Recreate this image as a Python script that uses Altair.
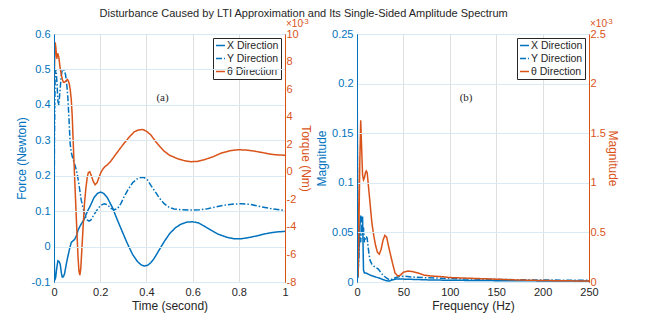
import altair as alt
import pandas as pd

BLUE = "#0072BD"
ORANGE = "#D95319"
DARK = "#262626"
FONT = "Liberation Sans"
SERIES = ["X Direction", "Y Direction", "θ Direction"]

# ---- (a) time domain ----
t_x = [0, 0.003, 0.007, 0.012, 0.017, 0.022, 0.027, 0.032, 0.036, 0.041, 0.046, 0.053, 0.06,
       0.068, 0.075, 0.082, 0.089, 0.097, 0.104, 0.116, 0.13, 0.145, 0.158, 0.173, 0.188, 0.202,
       0.215, 0.231, 0.253, 0.275, 0.297, 0.318, 0.34, 0.361, 0.376, 0.39, 0.405, 0.42, 0.434,
       0.455, 0.477, 0.5, 0.525, 0.549, 0.575, 0.6, 0.625, 0.65, 0.68, 0.71, 0.75, 0.78, 0.81,
       0.84, 0.87, 0.9, 0.93, 0.96, 1.0]
x_force = [0, -0.095, -0.088, -0.06, -0.04, -0.042, -0.05, -0.075, -0.086, -0.085, -0.076, -0.05,
           -0.028, -0.005, 0.012, 0.016, 0.02, 0.03, 0.046, 0.062, 0.076, 0.1, 0.116, 0.138, 0.15,
           0.154, 0.15, 0.138, 0.11, 0.074, 0.04, 0.008, -0.022, -0.042, -0.051, -0.055, -0.053,
           -0.045, -0.033, -0.01, 0.014, 0.036, 0.053, 0.063, 0.069, 0.07, 0.067, 0.058, 0.046,
           0.035, 0.026, 0.022, 0.022, 0.025, 0.029, 0.034, 0.038, 0.041, 0.043]

t_y = [0, 0.002, 0.005, 0.009, 0.013, 0.017, 0.021, 0.026, 0.031, 0.036, 0.04, 0.045, 0.05,
       0.055, 0.06, 0.065, 0.07, 0.075, 0.08, 0.086, 0.093, 0.1, 0.108, 0.118, 0.13, 0.137, 0.144,
       0.152, 0.16, 0.173, 0.188, 0.202, 0.217, 0.232, 0.246, 0.262, 0.275, 0.29, 0.303, 0.32,
       0.34, 0.36, 0.375, 0.39, 0.405, 0.42, 0.434, 0.455, 0.477, 0.5, 0.52, 0.55, 0.592, 0.63,
       0.665, 0.7, 0.74, 0.78, 0.81, 0.85, 0.9, 0.95, 1.0]
y_force = [0, 0.3, 0.49, 0.5, 0.46, 0.41, 0.40, 0.44, 0.48, 0.5, 0.5, 0.497, 0.485, 0.46, 0.42,
           0.36, 0.29, 0.265, 0.252, 0.239, 0.225, 0.207, 0.175, 0.131, 0.098, 0.083, 0.075,
           0.072, 0.075, 0.09, 0.105, 0.116, 0.121, 0.118, 0.108, 0.104, 0.107, 0.122, 0.14,
           0.16, 0.18, 0.191, 0.195, 0.195, 0.188, 0.172, 0.159, 0.138, 0.121, 0.11, 0.106,
           0.104, 0.103, 0.104, 0.107, 0.112, 0.117, 0.12, 0.121, 0.119, 0.112, 0.106, 0.102]

t_th = [0, 0.002, 0.005, 0.008, 0.012, 0.016, 0.021, 0.026, 0.031, 0.036, 0.041, 0.046, 0.052,
        0.058, 0.062, 0.066, 0.07, 0.075, 0.079, 0.084, 0.089, 0.094, 0.099, 0.104, 0.108,
        0.112, 0.116, 0.12, 0.126, 0.132, 0.138, 0.144, 0.149, 0.155, 0.162, 0.17, 0.178,
        0.186, 0.195, 0.203, 0.212, 0.222, 0.231, 0.245, 0.26, 0.28, 0.303, 0.325, 0.347,
        0.365, 0.383, 0.4, 0.42, 0.44, 0.46, 0.477, 0.5, 0.535, 0.565, 0.592, 0.62, 0.65, 0.69,
        0.723, 0.76, 0.795, 0.83, 0.867, 0.9, 0.94, 0.97, 1.0]
th_torque = [3.5, 7.5, 9.4, 9.0, 8.2, 8.6, 8.3, 7.6, 7.1, 6.7, 6.5, 6.5, 6.6, 6.7, 6.6, 6.4, 6.0,
             5.2, 4.0, 1.8, -0.3, -2.3, -4.3, -6.2, -7.2, -7.5, -7.0, -5.8, -4.0, -2.3, -1.2,
             -0.37, -0.05, 0.0, -0.3, -0.7, -0.94, -0.8, -0.4, -0.05, 0.2, 0.4, 0.5, 0.75, 1.1,
             1.55, 2.06, 2.5, 2.9, 3.03, 3.07, 2.95, 2.66, 2.2, 1.8, 1.5, 1.2, 0.95, 0.8, 0.73,
             0.75, 0.87, 1.1, 1.35, 1.52, 1.6, 1.58, 1.5, 1.4, 1.27, 1.22, 1.2]

# ---- (b) spectrum ----
f_x = [0, 1, 2, 3, 4, 5, 6, 7, 8, 10, 12, 14, 17, 20, 24, 28, 32, 35, 38, 42, 48, 55, 65, 80,
       100, 130, 160, 200, 250]
mag_x = [0.08, 0.004, 0.03, 0.055, 0.067, 0.06, 0.066, 0.012, 0.009, 0.009, 0.008, 0.007, 0.006,
         0.005, 0.004, 0.0025, 0.0012, 0.001, 0.002, 0.003, 0.003, 0.0028, 0.0025, 0.002,
         0.0018, 0.0015, 0.0013, 0.0011, 0.001]

f_y = [0, 1, 2, 3, 4, 5, 6, 7, 8, 9, 10, 11, 12, 13, 14, 16, 18, 20, 23, 26, 29, 32, 35, 38, 42,
       46, 52, 60, 70, 85, 100, 120, 140, 170, 200, 250]
mag_y = [0.22, 0.006, 0.025, 0.05, 0.04, 0.058, 0.048, 0.055, 0.04, 0.043, 0.046, 0.044, 0.035,
         0.028, 0.022, 0.018, 0.016, 0.015, 0.013, 0.009, 0.006, 0.004, 0.002, 0.003, 0.0045,
         0.0055, 0.0058, 0.005, 0.0045, 0.004, 0.0035, 0.003, 0.0028, 0.0023, 0.002, 0.0017]

f_th = [0, 1, 2, 3, 4, 5, 6, 7, 8, 9, 10, 11, 12, 14, 16, 18, 20, 22, 24, 26, 28, 30, 32, 34,
        36, 38, 41, 44, 47, 50, 55, 60, 66, 72, 80, 90, 100, 115, 130, 150, 175, 200, 225, 250]
mag_th = [2.48, 0.05, 0.5, 1.2, 1.63, 1.35, 1.08, 1.03, 1.05, 1.1, 1.12, 1.1, 1.0, 0.8, 0.6,
          0.47, 0.37, 0.3, 0.28, 0.33, 0.42, 0.47, 0.45, 0.36, 0.28, 0.2, 0.09, 0.06, 0.07, 0.1,
          0.11, 0.105, 0.09, 0.07, 0.06, 0.055, 0.045, 0.04, 0.035, 0.028, 0.02, 0.015, 0.012,
          0.01]

left_ticks = [-0.1, 0, 0.1, 0.2, 0.3, 0.4, 0.5, 0.6]
torque_ticks = [-8, -6, -4, -2, 0, 2, 4, 6, 8, 10]
time_ticks = [0, 0.2, 0.4, 0.6, 0.8, 1]
mag_ticks = [0, 0.05, 0.1, 0.15, 0.2, 0.25]
mag3_ticks = [0, 0.5, 1, 1.5, 2, 2.5]
freq_ticks = [0, 50, 100, 150, 200, 250]

W1, W2, H = 231, 232, 248
LBL = "'' + datum.value"


def legend():
    return alt.Legend(title=None, orient="top-right", offset=4, symbolType="stroke",
                      symbolSize=80, symbolStrokeWidth=1.5, labelFontSize=10.5,
                      labelFont=FONT, labelColor=DARK, labelOffset=1, rowPadding=2,
                      padding=2, strokeColor=DARK, fillColor="white", cornerRadius=0)


def color_enc():
    return alt.Color("s:N", scale=alt.Scale(domain=SERIES, range=[BLUE, BLUE, ORANGE]),
                     legend=legend())


def dash_enc():
    return alt.StrokeDash("s:N", scale=alt.Scale(domain=SERIES,
                                                 range=[[1, 0], [6, 2, 1.5, 2], [1, 0]]),
                          legend=legend())


def left_axis(title, ticks):
    return alt.Axis(orient="left", title=title, values=ticks, labelExpr=LBL, labelColor=BLUE,
                    titleColor=BLUE, domainColor=BLUE, grid=True, gridColor="#d9eaf5",
                    zindex=1, labelPadding=4, titlePadding=3)


def right_axis(title, ticks):
    return alt.Axis(orient="right", title=title, values=ticks, labelExpr=LBL,
                    labelColor=ORANGE, titleColor=ORANGE, domainColor=ORANGE, grid=False,
                    zindex=1, labelPadding=1, titlePadding=0)


def x_axis(title, ticks):
    return alt.Axis(title=title, values=ticks, labelExpr=LBL, labelColor=DARK, titleColor=DARK,
                    domainColor=DARK, grid=True, gridColor="#dfdfdf", labelPadding=4,
                    titlePadding=3, labelFlush=False)


def panel(df_blue, df_orange, xfield, xdom, xticks, xtitle, ydom, yticks, ytitle,
          y2dom, y2ticks, y2title, tag, W):
    xe = alt.X(f"{xfield}:Q", scale=alt.Scale(domain=xdom, nice=False, zero=False),
               axis=x_axis(xtitle, xticks))
    blue = alt.Chart(df_blue).mark_line(strokeWidth=1.5, clip=True).encode(
        x=xe,
        y=alt.Y("v:Q", scale=alt.Scale(domain=ydom, nice=False, zero=False),
                axis=left_axis(ytitle, yticks)),
        color=color_enc(), strokeDash=dash_enc())
    orange = alt.Chart(df_orange).mark_line(strokeWidth=1.5, clip=True).encode(
        x=xe,
        y=alt.Y("v:Q", scale=alt.Scale(domain=y2dom, nice=False, zero=False),
                axis=right_axis(y2title, y2ticks)),
        color=color_enc(), strokeDash=dash_enc())
    lab = alt.Chart(pd.DataFrame({"lab": [tag]})).mark_text(
        font="Liberation Serif", fontSize=11, color=DARK).encode(
        x=alt.value(W * 0.47), y=alt.value(64), text="lab:N")
    e1 = alt.Chart(pd.DataFrame({"lab": ["×10"]})).mark_text(
        font=FONT, fontSize=10, color=ORANGE, align="left", baseline="middle").encode(
        x=alt.value(W + 1), y=alt.value(-10.5), text="lab:N")
    e2 = alt.Chart(pd.DataFrame({"lab": ["-3"]})).mark_text(
        font=FONT, fontSize=7.5, color=ORANGE, align="left", baseline="middle").encode(
        x=alt.value(W + 17), y=alt.value(-12.5), text="lab:N")
    return alt.layer(blue, orange, lab, e1, e2).resolve_scale(y="independent").properties(
        width=W, height=H)


force_df = pd.concat([
    pd.DataFrame({"t": t_x, "v": x_force, "s": SERIES[0]}),
    pd.DataFrame({"t": t_y, "v": y_force, "s": SERIES[1]}),
])
torque_df = pd.DataFrame({"t": t_th, "v": th_torque, "s": SERIES[2]})

spec_df = pd.concat([
    pd.DataFrame({"f": f_x, "v": mag_x, "s": SERIES[0]}),
    pd.DataFrame({"f": f_y, "v": mag_y, "s": SERIES[1]}),
])
spec_th_df = pd.DataFrame({"f": f_th, "v": mag_th, "s": SERIES[2]})

left = panel(force_df, torque_df, "t", [0, 1], time_ticks, "Time (second)",
             [-0.1, 0.6], left_ticks, "Force (Newton)", [-8, 10], torque_ticks,
             "Torque (Nm)", "(a)", W1)
right = panel(spec_df, spec_th_df, "f", [0, 250], freq_ticks, "Frequency (Hz)",
              [0, 0.25], mag_ticks, "Magnitude", [0, 2.5], mag3_ticks, "Magnitude", "(b)", W2)

chart = alt.hconcat(left, right, spacing=3).resolve_scale(
    color="independent", strokeDash="independent").properties(
    title=alt.TitleParams(
        "Disturbance Caused by LTI Approximation and Its Single-Sided Amplitude Spectrum",
        fontSize=11, font=FONT, fontWeight="normal", color=DARK, anchor="middle",
        offset=-2, dx=-13),
    padding={"left": 6, "top": 0, "right": 5, "bottom": 5},
).configure_view(stroke=DARK, strokeWidth=1).configure_axis(
    labelFont=FONT, titleFont=FONT, labelFontSize=11, titleFontSize=12,
    titleFontWeight="normal", ticks=False, domainWidth=1, gridWidth=1
)

chart.save("out.html", embed_options={"renderer": "svg", "actions": False})
